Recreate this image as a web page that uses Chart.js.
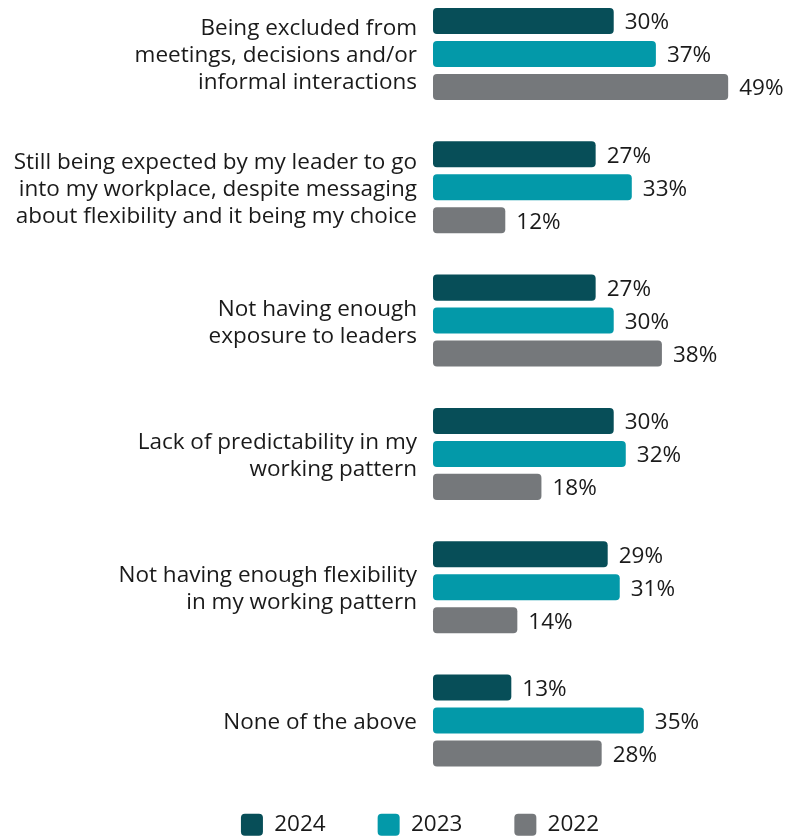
<!DOCTYPE html>
<html>
<head>
<meta charset="utf-8">
<script src="https://cdn.jsdelivr.net/npm/chart.js@4.4.1/dist/chart.umd.min.js"></script>
<style>
  html, body { margin: 0; padding: 0; background: #ffffff; overflow: hidden; }
  #wrap { position: absolute; left: 0; top: 0; width: 786px; height: 846px; }
</style>
</head>
<body>
<div id="wrap"><canvas id="chart"></canvas></div>
<script>
  // Reasons reported, per survey year (percent of respondents).
  const categories = [
    ["Being excluded from", "meetings, decisions and/or", "informal interactions"],
    ["Still being expected by my leader to go", "into my workplace, despite messaging", "about flexibility and it being my choice"],
    ["Not having enough", "exposure to leaders"],
    ["Lack of predictability in my", "working pattern"],
    ["Not having enough flexibility", "in my working pattern"],
    ["None of the above"],
  ];
  const years = ["2024", "2023", "2022"];
  const values2024 = [30, 27, 27, 30, 29, 13];
  const values2023 = [37, 33, 30, 32, 31, 35];
  const values2022 = [49, 12, 38, 18, 14, 28];

  const COLORS = ["#074e58", "#0399a9", "#75787b"];
  const TEXT = "#1a1a1a";
  const FONT = "'Open Sans', sans-serif";
  const FONT_SIZE = 22.5;
  const AXIS_WIDTH = 433;

  Chart.defaults.font.family = FONT;
  Chart.defaults.color = TEXT;

  // Draws "NN%" just past the end of every bar.
  const valueLabels = {
    id: "valueLabels",
    afterDatasetsDraw(chart) {
      const ctx = chart.ctx;
      ctx.save();
      ctx.font = FONT_SIZE + "px " + FONT;
      ctx.fillStyle = TEXT;
      ctx.textAlign = "left";
      ctx.textBaseline = "middle";
      chart.data.datasets.forEach((ds, i) => {
        chart.getDatasetMeta(i).data.forEach((bar, j) => {
          ctx.fillText(ds.data[j] + "%", bar.x + 11, bar.y + 2);
        });
      });
      ctx.restore();
    },
  };

  const series = [values2024, values2023, values2022];

  new Chart(document.getElementById("chart"), {
    type: "bar",
    data: {
      labels: categories,
      datasets: series.map((data, i) => ({
        label: years[i],
        data,
        backgroundColor: COLORS[i],
        borderRadius: 4,
        borderSkipped: false,
        barPercentage: 0.79,
        categoryPercentage: 0.742,
        clip: false,
      })),
    },
    options: {
      indexAxis: "y",
      responsive: true,
      maintainAspectRatio: false,
      animation: false,
      // negative right padding only widens the legend box, nudging the
      // centred legend to the right
      layout: { padding: { left: 0, right: -54, top: 54, bottom: 0 } },
      scales: {
        x: {
          min: 0,
          max: 58.6,
          afterFit: (scale) => { scale.height = 41; },
          grid: { display: false, drawTicks: false },
          border: { display: false },
          ticks: { display: false },
        },
        y: {
          offset: false,
          afterFit: (scale) => { scale.width = AXIS_WIDTH; },
          grid: { display: false, drawTicks: false },
          border: { display: false },
          ticks: {
            color: TEXT,
            padding: 16,
            labelOffset: 2,
            font: { size: FONT_SIZE, lineHeight: 1.2 },
          },
        },
      },
      plugins: {
        tooltip: { enabled: false },
        legend: {
          position: "bottom",
          labels: {
            boxWidth: 22,
            boxHeight: 22,
            useBorderRadius: true,
            borderRadius: 4,
            padding: 52,
            color: TEXT,
            font: { size: FONT_SIZE },
          },
        },
      },
    },
    plugins: [valueLabels],
  });
</script>
</body>
</html>
